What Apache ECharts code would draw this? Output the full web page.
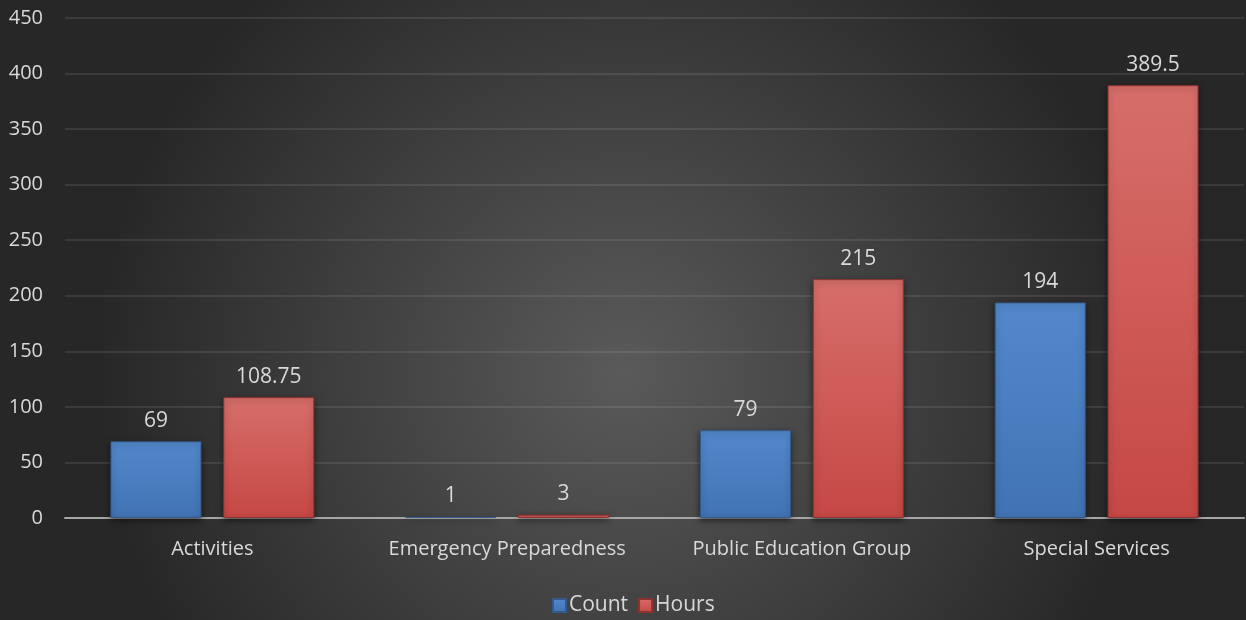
<!DOCTYPE html>
<html>
<head>
<meta charset="utf-8">
<script src="https://cdn.jsdelivr.net/npm/echarts@6/dist/echarts.min.js"></script>
<style>
html,body{margin:0;padding:0;background:#333;}
#c{width:1246px;height:620px;}
</style>
</head>
<body>
<div id="c"></div>
<script>
var categories = ["Activities", "Emergency Preparedness", "Public Education Group", "Special Services"];
var countValues = [69, 1, 79, 194];
var hoursValues = [108.75, 3, 215, 389.5];
var seriesNames = ["Count", "Hours"];

var FONT = "Open Sans";
var TXT = "#d9d9d9";

function barFill(top, bottom) {
  return {
    type: 'linear', x: 0, y: 0, x2: 0, y2: 1,
    colorStops: [
      {offset: 0, color: top},
      {offset: 1, color: bottom}
    ]
  };
}

var chart = echarts.init(document.getElementById('c'));
chart.setOption({
  backgroundColor: {
    type: 'radial', x: 0.5, y: 0.6, r: 0.85,
    colorStops: [
      {offset: 0, color: '#5a5a5a'},
      {offset: 1, color: '#272727'}
    ]
  },
  textStyle: {fontFamily: FONT},
  grid: {left: 65, right: 2, top: 18, bottom: 102, containLabel: false},
  legend: {
    data: seriesNames,
    top: 590,
    left: 547,
    itemWidth: 13, itemHeight: 13, itemGap: 10,
    icon: 'rect',
    textStyle: {color: TXT, fontSize: 21, fontFamily: FONT, padding: [0,0,0,-2]}
  },
  xAxis: {
    type: 'category',
    data: categories,
    axisLine: {lineStyle: {color: '#a6a6a6', width: 2}},
    axisTick: {show: false},
    axisLabel: {color: TXT, fontSize: 20, fontFamily: FONT, margin: 21, interval: 0}
  },
  yAxis: {
    type: 'value',
    min: 0, max: 450, interval: 50,
    axisLine: {show: false},
    axisTick: {show: false},
    axisLabel: {color: TXT, fontSize: 20, fontFamily: FONT, margin: 22},
    splitLine: {lineStyle: {color: 'rgba(255,255,255,0.12)', width: 1.5}}
  },
  series: [
    {
      name: seriesNames[0], type: 'bar', data: countValues,
      barWidth: 91, barGap: '24%',
      itemStyle: {
        color: barFill('#5289cc', '#4173b4'),
        borderColor: '#35598a', borderWidth: 1,
        shadowColor: 'rgba(0,0,0,0.5)', shadowBlur: 6, shadowOffsetY: 2
      },
      label: {show: true, position: 'top', distance: 10, color: TXT, fontSize: 21, fontFamily: FONT}
    },
    {
      name: seriesNames[1], type: 'bar', data: hoursValues,
      barWidth: 91,
      itemStyle: {
        color: barFill('#d66e6a', '#c64844'),
        borderColor: '#8f3331', borderWidth: 1,
        shadowColor: 'rgba(0,0,0,0.5)', shadowBlur: 6, shadowOffsetY: 2
      },
      label: {show: true, position: 'top', distance: 10, color: TXT, fontSize: 21, fontFamily: FONT}
    }
  ]
});
</script>
</body>
</html>
